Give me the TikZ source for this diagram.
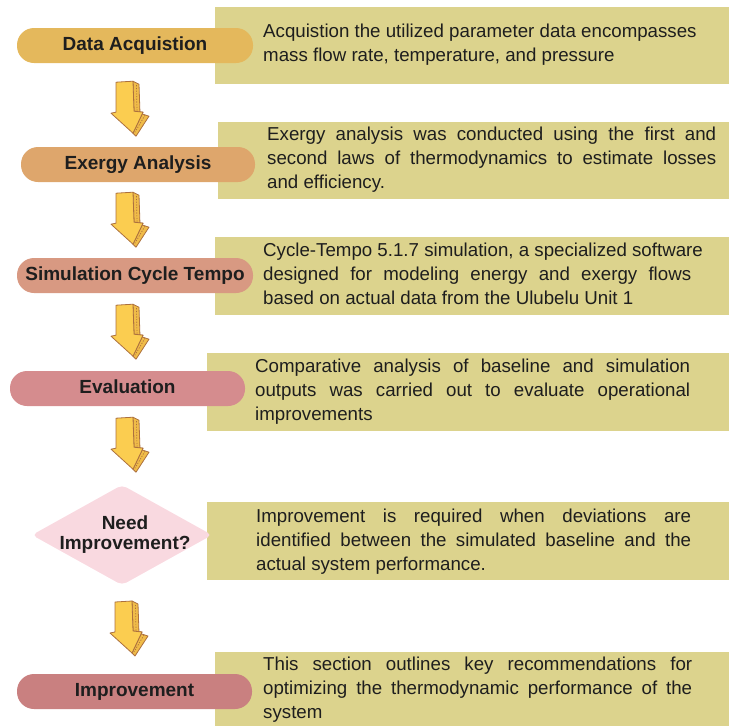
\documentclass[tikz,border=0pt]{standalone}
\usepackage{fontspec}
\setmainfont{Liberation Sans}
\usetikzlibrary{calc}
\definecolor{khaki}{RGB}{220,211,141}
\definecolor{pillA}{RGB}{228,184,92}
\definecolor{pillB}{RGB}{222,166,108}
\definecolor{pillC}{RGB}{216,153,130}
\definecolor{pillD}{RGB}{213,140,142}
\definecolor{pillE}{RGB}{201,128,128}
\definecolor{diam}{RGB}{249,217,224}
\definecolor{arrfill}{RGB}{251,205,80}
\definecolor{arrsidec}{RGB}{240,188,72}
\definecolor{arrline}{RGB}{172,112,62}
\definecolor{ink}{RGB}{30,30,30}
\tikzset{
  infobox/.style={fill=khaki, draw=none, anchor=north west, inner sep=0pt, outer sep=0pt},
  pill/.style={fill=#1, rounded corners=17pt, minimum width=236pt, minimum height=35pt,
    inner sep=0pt, font=\fontsize{19}{20}\selectfont\bfseries, text=ink,
    text height=14pt, text depth=4pt},
  bodytext/.style={anchor=base west, inner sep=0pt, text=ink, font=\fontsize{18.7}{24}\selectfont},
  diamtext/.style={anchor=base, inner sep=0pt, text=ink, font=\fontsize{19}{20}\selectfont\bfseries},
  blockarrow/.pic={
    \filldraw[fill=arrsidec, draw=arrline, line width=0.8pt, line join=round]
      (23,-1) -- (29,2) -- (30,31) -- (39,34) -- (26,54) -- (23,51) -- (33,30) -- (24,29) -- cycle;
    \draw[arrline, line width=0.7pt, dash pattern=on 1.2pt off 1.5pt] (26.5,3) -- (27,30);
    \draw[arrline, line width=0.7pt, dash pattern=on 1.2pt off 1.5pt] (35,33) -- (25,50);
    \filldraw[fill=arrfill, draw=arrline, line width=0.8pt, line join=round]
      (6,0) -- (23,-1) -- (24,29) -- (33,30) -- (23,51) -- (1,31) -- (6,30) -- cycle;
  }
}
\begin{document}
\begin{tikzpicture}[x=1pt,y=-1pt]
\useasboundingbox (0,0) rectangle (729,726);
% info boxes
\node[infobox, minimum width=514pt, minimum height=77pt] (b1) at (215,7) {};
\node[infobox, minimum width=511pt, minimum height=77pt] (b2) at (218,122) {};
\node[infobox, minimum width=514pt, minimum height=78pt] (b3) at (215,237) {};
\node[infobox, minimum width=522pt, minimum height=78pt] (b4) at (207,353) {};
\node[infobox, minimum width=522pt, minimum height=78pt] (b5) at (207,502) {};
\node[infobox, minimum width=514pt, minimum height=74pt] (b6) at (215,652) {};
% texts
\node[bodytext] (t1) at (263,37.5) {\vtop{\baselineskip=24pt
  \hbox{Acquistion the utilized parameter data encompasses}
  \hbox{mass flow rate, temperature, and pressure}}};
\node[bodytext] (t2) at (267,140.7) {\vtop{\baselineskip=24pt
  \hbox to 449pt{Exergy analysis was conducted using the first and}
  \hbox to 449pt{second laws of thermodynamics to estimate losses}
  \hbox{and efficiency.}}};
\node[bodytext] (t3) at (263,256.7) {\vtop{\baselineskip=24pt
  \hbox{Cycle-Tempo 5.1.7 simulation, a specialized software}
  \hbox to 428pt{designed for modeling energy and exergy flows}
  \hbox{based on actual data from the Ulubelu Unit 1}}};
\node[bodytext] (t4) at (255,372.3) {\vtop{\baselineskip=24pt
  \hbox to 435pt{Comparative analysis of baseline and simulation}
  \hbox to 435pt{outputs was carried out to evaluate operational}
  \hbox{improvements}}};
\node[bodytext] (t5) at (256,522.3) {\vtop{\baselineskip=24pt
  \hbox to 435pt{Improvement is required when deviations are}
  \hbox to 435pt{identified between the simulated baseline and the}
  \hbox{actual system performance.}}};
\node[bodytext] (t6) at (263,670) {\vtop{\baselineskip=24pt
  \hbox to 429pt{This section outlines key recommendations for}
  \hbox to 429pt{optimizing the thermodynamic performance of the}
  \hbox{system}}};
% pills
\node[pill=pillA] (p1) at (135,45.5) {Data Acquistion};
\node[pill=pillB, minimum width=234pt] (p2) at (138,164.5) {Exergy Analysis};
\node[pill=pillC] (p3) at (135,275.5) {Simulation Cycle Tempo};
\node[pill=pillD, minimum width=235pt] (p4) at (127.5,388.5) {Evaluation};
\node[pill=pillE, minimum width=235pt] (p6) at (134.5,691.5) {Improvement};
% decision diamond
\coordinate (dtop) at (122,485);
\coordinate (dbot) at (122,585);
\fill[diam, rounded corners=5pt] (32,535) -- (dtop) -- (212,535) -- (dbot) -- cycle;
\node[diamtext] (dq) at (125,529.5) {\vtop{\baselineskip=20pt\halign{\hfil#\hfil\cr Need\cr Improvement?\cr}}};
% block arrows
\path (p1.south) ++(-25,19) pic {blockarrow};
\path (p2.south) ++(-28,11) pic {blockarrow};
\path (p3.south) ++(-25,12) pic {blockarrow};
\path (p4.south) ++(-17.5,12) pic {blockarrow};
\path (dbot) ++(-13,17) pic {blockarrow};
\end{tikzpicture}
\end{document}
